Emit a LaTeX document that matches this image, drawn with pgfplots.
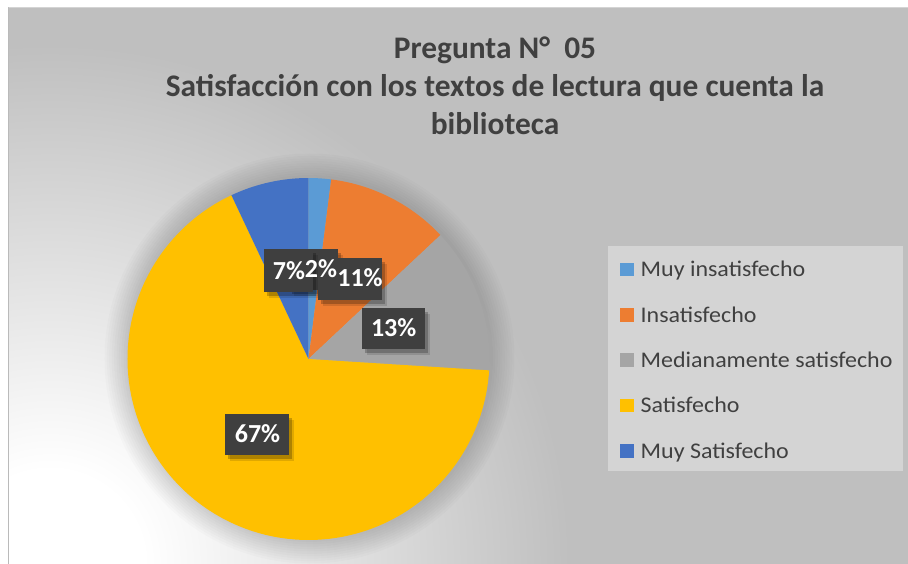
\documentclass[border=0pt]{standalone}
\usepackage{pgfplots}
\pgfplotsset{compat=1.18}
\usepackage{fontspec}
\setmainfont{Carlito}
\newfontfamily\legfont[FakeStretch=1.07]{Carlito}
\definecolor{bggray}{HTML}{BFBFBF}
\definecolor{legbg}{HTML}{D4D4D4}
\definecolor{txt}{HTML}{404040}
\definecolor{lblbg}{HTML}{3F3F3F}
\definecolor{cA}{HTML}{5B9BD5}
\definecolor{cB}{HTML}{ED7D31}
\definecolor{cC}{HTML}{A5A5A5}
\definecolor{cD}{HTML}{FFC000}
\definecolor{cE}{HTML}{4472C4}
\pgfdeclareradialshading{bgrad}{\pgfpoint{0bp}{0bp}}{color(0bp)=(white); color(4.5bp)=(white); color(25bp)=(bggray); color(50bp)=(bggray)}

% pie slice: colour, cumulative start (%), value (%)
\newcommand{\pieslice}[3]{%
  \pgfmathsetmacro\dA{90-3.6*(#2+#3)}%
  \pgfmathsetmacro\dB{90-3.6*(#2)}%
  \addplot[fill=#1, draw=none, domain=\dA:\dB, samples=150]
    ({308.5+181*cos(x)}, {205+181*sin(x)}) -- (axis cs:308.5,205) -- cycle;
}
% label box: x0, x1, y0, y1
\newcommand{\lbox}[4]{%
  \fill[black, opacity=0.22] (axis cs:#1+3,#3-4) rectangle (axis cs:#2+3,#4-4);
  \fill[black, opacity=0.12] (axis cs:#1+5,#3-6) rectangle (axis cs:#2+5,#4-6);
  \fill[lblbg] (axis cs:#1,#3) rectangle (axis cs:#2,#4);
}
% label text: x, baseline y, text
\newcommand{\ltext}[3]{%
  \node[anchor=base, inner sep=0pt, text=white, font=\bfseries\fontsize{26}{26}\selectfont]
        at (axis cs:#1,#2) {#3};
}
% legend entry: colour, baseline y, text
\newcommand{\legentry}[3]{%
  \fill[#1] (axis cs:620,#2+0.5) rectangle (axis cs:634,#2+14);
  \node[anchor=base west, inner sep=0pt, text=txt, font=\legfont\fontsize{22.4}{26}\selectfont]
        at (axis cs:640.5,#2) {#3};
}

\begin{document}
\begin{tikzpicture}
\path[use as bounding box] (0,0) rectangle (908pt,564pt);
\begin{axis}[
  at={(0,0)}, anchor=south west,
  scale only axis, width=908pt, height=564pt,
  xmin=0, xmax=908, ymin=0, ymax=564,
  hide axis, clip=false,
]
% background
\fill[bggray] (axis cs:0,0) rectangle (axis cs:908,564);
\shade[shading=bgrad] (axis cs:50,0) circle[radius=520];
\fill[white] (axis cs:-600,-600) rectangle (axis cs:8,1200);
\fill[white] (axis cs:-600,557) rectangle (axis cs:1500,1200);
\draw[color=black!27, line width=1.2pt] (axis cs:8.6,0) -- (axis cs:8.6,556.4);
\draw[color=black!17, line width=1.2pt] (axis cs:8.6,556.4) -- (axis cs:908,556.4);

% pie shadow
\pgfplotsinvokeforeach{1,...,10}{%
  \fill[black, opacity=0.015] (axis cs:309.5,205.5) circle[radius=181+2.4*#1];
}

% slices (values in %)
\pieslice{cA}{0}{2}
\pieslice{cB}{2}{11}
\pieslice{cC}{13}{13}
\pieslice{cD}{26}{67}
\pieslice{cE}{93}{7}

% data label boxes
\lbox{289}{338}{274}{315}
\lbox{318}{382}{264}{306}
\lbox{362}{425}{215}{256}
\lbox{225}{289}{109}{150}
\lbox{264}{313}{272}{315}
% data label texts
\ltext{321}{286.5}{2\%}
\ltext{360}{277.3}{11\%}
\ltext{393.7}{227.3}{13\%}
\ltext{257.5}{121.3}{67\%}
\ltext{289}{284}{7\%}

% title
\node[anchor=base, text=txt, font=\bfseries\fontsize{31.4}{38}\selectfont] at (axis cs:495,505.7) {Pregunta N°\ \ 05};
\node[anchor=base, text=txt, font=\bfseries\fontsize{31.4}{38}\selectfont] at (axis cs:495,467.5) {Satisfacción con los textos de lectura que cuenta la};
\node[anchor=base, text=txt, font=\bfseries\fontsize{31.4}{38}\selectfont] at (axis cs:495,429) {biblioteca};

% legend
\fill[legbg] (axis cs:608,93) rectangle (axis cs:903,318);
\legentry{cA}{287.3}{Muy insatisfecho}
\legentry{cB}{242}{Insatisfecho}
\legentry{cC}{196.7}{Medianamente satisfecho}
\legentry{cD}{151.4}{Satisfecho}
\legentry{cE}{106}{Muy Satisfecho}
\end{axis}
\end{tikzpicture}
\end{document}
